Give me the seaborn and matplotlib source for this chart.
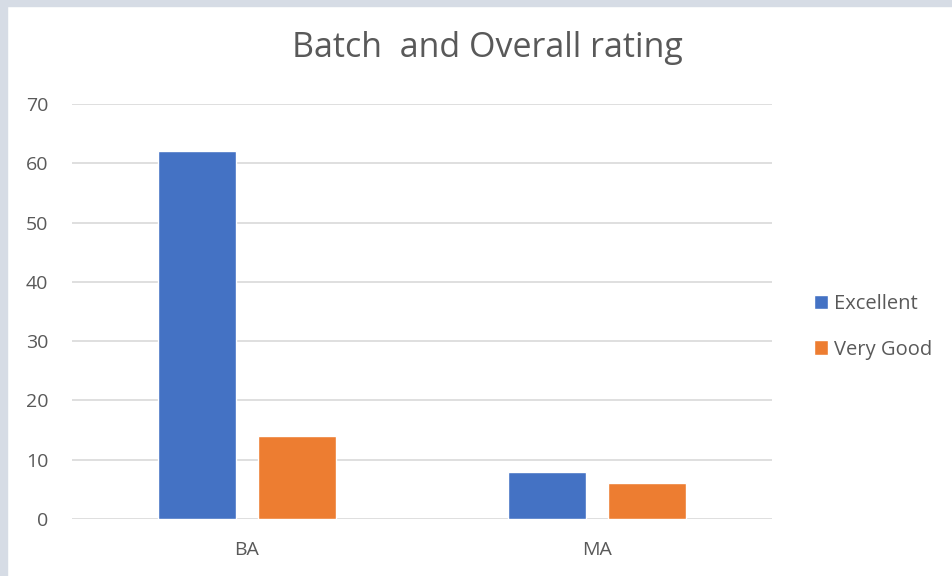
import pandas as pd
import matplotlib.pyplot as plt
import seaborn as sns
from matplotlib.patches import Rectangle

# datos
batches = ["BA", "BA", "MA", "MA"]
ratings = ["Excellent", "Very Good", "Excellent", "Very Good"]
counts = [62, 14, 8, 6]
colores = ["#4472C4", "#ED7D31"]

df = pd.DataFrame({"Batch": batches, "Rating": ratings, "Count": counts})

sns.set_style("white")
plt.rcParams['font.family'] = ['Open Sans', 'DejaVu Sans']

fig = plt.figure(figsize=(9.52, 5.76), dpi=100)
ax = fig.add_axes([72/952, 1 - 519/576, 700/952, 415/576])

sns.barplot(data=df, x="Batch", y="Count", hue="Rating", palette=colores,
            width=0.571, gap=0.22, ax=ax, saturation=1)

ax.set_xlim(-0.5, 1.5)
ax.set_ylim(0, 70)
ax.set_yticks(range(0, 71, 10))
ax.yaxis.grid(True, color="#D9D9D9", linewidth=1.2)
ax.set_axisbelow(True)
for s in ax.spines.values():
    s.set_visible(False)
ax.tick_params(axis="both", length=0, labelsize=14, colors="#595959")
ax.tick_params(axis="x", pad=16)
ax.tick_params(axis="y", pad=17)
ax.set_xlabel("")
ax.set_ylabel("")

fig.text(487/952, 1 - 48/576, "Batch  and Overall rating", ha="center", va="center",
         fontsize=24.5, color="#595959")

h, l = ax.get_legend_handles_labels()
ax.legend(h, l, loc="center left", bbox_to_anchor=(796/952, 1 - 327/576),
          bbox_transform=fig.transFigure, frameon=False, fontsize=14.5,
          labelcolor="#595959", handlelength=0.7, handleheight=0.7,
          handletextpad=0.3, labelspacing=1.25)

# borde gris arriba e izquierda
fig.patches.append(Rectangle((0, 1 - 6/576), 1, 6/576, transform=fig.transFigure,
                             color="#D6DCE5", zorder=0))
fig.patches.append(Rectangle((0, 0), 7/952, 1, transform=fig.transFigure,
                             color="#D6DCE5", zorder=0))

fig.savefig("out.png", dpi=100)
